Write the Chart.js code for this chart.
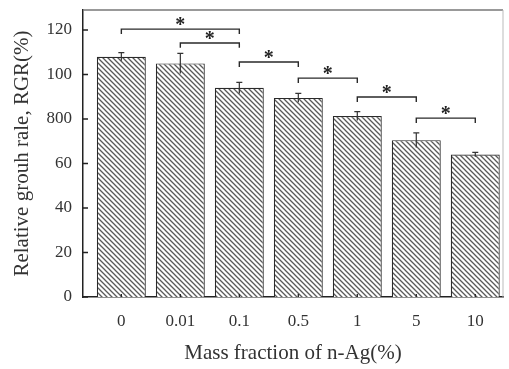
<!DOCTYPE html>
<html>
<head>
<meta charset="utf-8">
<script src="https://cdn.jsdelivr.net/npm/chart.js@4.4.0/dist/chart.umd.min.js"></script>
<style>
  html, body { margin: 0; padding: 0; background: #fff; }
  #wrap { width: 509px; height: 369px; }
</style>
</head>
<body>
<div id="wrap"><canvas id="myChart" width="509" height="369"></canvas></div>
<script>
// data
const categories = ['0', '0.01', '0.1', '0.5', '1', '5', '10'];
const rgr = [108, 105, 94, 89.5, 81.3, 70.5, 64];
const rgrErr = [1.8, 4.5, 2.5, 2, 2, 3.3, 1];
const yTicks = [0, 20, 40, 60, 80, 100, 120];
const yTickLabels = ['0', '20', '40', '60', '800', '100', '120'];
// significance brackets: [from bar, to bar, height]
const brackets = [[0, 2, 120.4], [1, 2, 114.2], [2, 3, 105.6], [3, 4, 98.4], [4, 5, 89.9], [5, 6, 80.4]];
const bracketDrop = 2.2;

const serif = "'Liberation Serif', 'DejaVu Serif', serif";
const ink = '#333';

// diagonal hatch like the scanned bars
function hatch() {
	let c = document.createElement('canvas');
	c.width = 5; c.height = 5;
	let g = c.getContext('2d');
	g.fillStyle = '#fff';
	g.fillRect(0, 0, 5, 5);
	g.strokeStyle = '#5a5a5a';
	g.lineWidth = 1.3;
	g.beginPath();
	g.moveTo(-1, -1); g.lineTo(6, 6);
	g.moveTo(-1, 4); g.lineTo(1, 6);
	g.moveTo(4, -1); g.lineTo(6, 1);
	g.stroke();
	return g.createPattern(c, 'repeat');
}

let bracketPts = [];
brackets.forEach(b => {
	bracketPts.push({x: b[0], y: b[2] - bracketDrop}, {x: b[0], y: b[2]},
		{x: b[1], y: b[2]}, {x: b[1], y: b[2] - bracketDrop}, {x: b[1], y: null});
});

const extras = {
	id: 'extras',
	afterDatasetsDraw(chart) {
		let ctx = chart.ctx, xs = chart.scales.x, ys = chart.scales.y, a = chart.chartArea;
		ctx.save();
		// error bars
		ctx.strokeStyle = ink;
		ctx.lineWidth = 1.2;
		rgr.forEach((v, i) => {
			let px = xs.getPixelForValue(i);
			let top = ys.getPixelForValue(v + rgrErr[i]);
			let bot = ys.getPixelForValue(v - rgrErr[i]);
			ctx.beginPath();
			ctx.moveTo(px, top); ctx.lineTo(px, bot);
			ctx.moveTo(px - 3, top); ctx.lineTo(px + 3, top);
			ctx.stroke();
		});
		// stars
		ctx.fillStyle = '#222';
		ctx.font = 'bold 20px ' + serif;
		ctx.textAlign = 'center';
		ctx.textBaseline = 'alphabetic';
		brackets.forEach(b => {
			let px = xs.getPixelForValue((b[0] + b[1]) / 2);
			let py = ys.getPixelForValue(b[2]);
			ctx.fillText('*', px, py + 2);
		});
		// inward ticks
		ctx.strokeStyle = '#222';
		ctx.lineWidth = 1.3;
		ctx.beginPath();
		yTicks.forEach(t => {
			let py = ys.getPixelForValue(t);
			ctx.moveTo(a.left, py); ctx.lineTo(a.left + 5, py);
		});
		categories.forEach((c, i) => {
			let px = xs.getPixelForValue(i);
			ctx.moveTo(px, a.bottom); ctx.lineTo(px, a.bottom - 3);
		});
		ctx.stroke();
		// frame
		ctx.strokeStyle = '#777';
		ctx.lineWidth = 1.5;
		ctx.beginPath();
		ctx.moveTo(a.left, a.top); ctx.lineTo(a.right, a.top);
		ctx.stroke();
		ctx.strokeStyle = '#bbb';
		ctx.lineWidth = 1;
		ctx.beginPath();
		ctx.moveTo(a.right, a.top); ctx.lineTo(a.right, a.bottom);
		ctx.stroke();
		ctx.restore();
	}
};

let ctx = document.getElementById('myChart').getContext('2d');
let config = {
	type: 'bar',
	data: {
		datasets: [{
			type: 'bar',
			data: rgr.map((v, i) => ({x: i, y: v})),
			backgroundColor: hatch(),
			borderColor: '#2a2a2a',
			borderWidth: 1.2,
			barPercentage: 0.83,
			categoryPercentage: 1
		}, {
			type: 'line',
			data: bracketPts,
			borderColor: '#2a2a2a',
			borderWidth: 1.4,
			pointRadius: 0,
			fill: false,
			spanGaps: false
		}]
	},
	plugins: [extras],
	options: {
		responsive: false,
		animation: false,
		layout: { padding: { top: 10, right: 6, left: 0, bottom: 0 } },
		plugins: { legend: { display: false }, tooltip: { enabled: false } },
		scales: {
			x: {
				type: 'linear',
				offset: false,
				min: -0.65,
				max: 6.47,
				afterFit: s => { s.height = 72; s.paddingLeft = 0; s.paddingRight = 0; },
				afterBuildTicks: s => { s.ticks = categories.map((c, i) => ({value: i})); },
				ticks: {
					callback: v => categories[v],
					font: { family: serif, size: 17 },
					color: ink,
					padding: 14,
					maxRotation: 0,
					autoSkip: false
				},
				grid: { display: false, drawTicks: false, offset: false },
				border: { display: true, color: '#222', width: 1.5 },
				title: {
					display: true,
					text: 'Mass fraction of n-Ag(%)',
					font: { family: serif, size: 21 },
					color: ink,
					padding: { top: 0, bottom: 3 }
				}
			},
			y: {
				min: 0,
				max: 129,
				afterFit: s => { s.width = 83; s.paddingTop = 0; s.paddingBottom = 0; },
				afterBuildTicks: s => { s.ticks = yTicks.map(t => ({value: t})); },
				ticks: {
					callback: (v, i) => yTickLabels[i],
					font: { family: serif, size: 17 },
					color: ink,
					padding: 11
				},
				grid: { display: false, drawTicks: false },
				border: { display: true, color: '#222', width: 1.5 },
				title: {
					display: true,
					text: 'Relative grouh rale, RGR(%)',
					font: { family: serif, size: 21 },
					color: ink,
					padding: { top: 10, bottom: 0 }
				}
			}
		}
	}
};
let myChart = new Chart(ctx, config);
</script>
</body>
</html>
